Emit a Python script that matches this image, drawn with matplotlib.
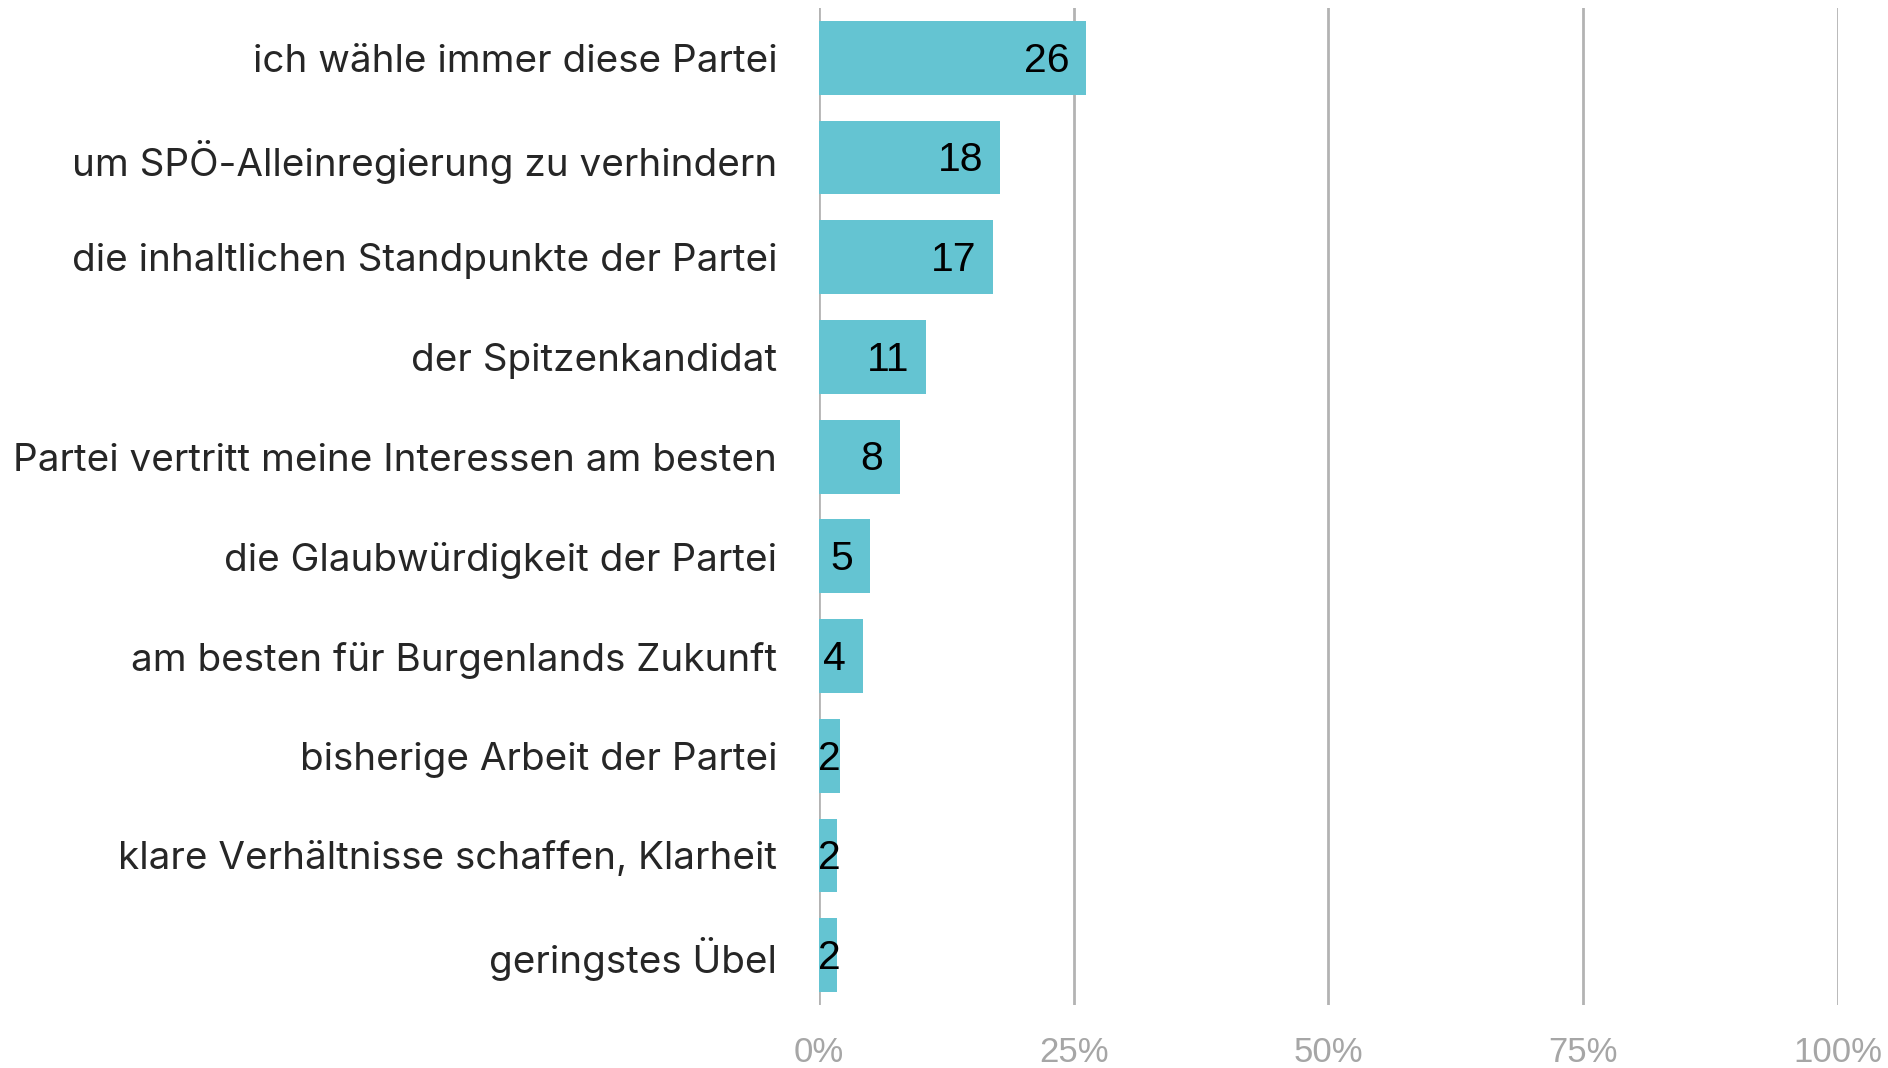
import matplotlib
matplotlib.use("Agg")
import matplotlib.pyplot as plt
from matplotlib.ticker import FuncFormatter

categories = [
    "ich wähle immer diese Partei",
    "um SPÖ-Alleinregierung zu verhindern",
    "die inhaltlichen Standpunkte der Partei",
    "der Spitzenkandidat",
    "Partei vertritt meine Interessen am besten",
    "die Glaubwürdigkeit der Partei",
    "am besten für Burgenlands Zukunft",
    "bisherige Arbeit der Partei",
    "klare Verhältnisse schaffen, Klarheit",
    "geringstes Übel",
]
values = [26.2, 17.8, 17.1, 10.5, 7.9, 5.0, 4.3, 2.1, 1.8, 1.8]
labels = ["26", "18", "17", "11", "8", "5", "4", "2", "2", "2"]
xticks = [0, 25, 50, 75, 100]

fig = plt.figure(figsize=(18.88, 10.68), dpi=100)
ax = fig.add_axes([0.4338, 0.059, 0.5397, 0.9335])

ypos = list(range(len(categories)))
ax.barh(ypos, values, height=0.74, color="#64C4D2", zorder=3)

for y, v, lab in zip(ypos, values, labels):
    if v < 3:
        ax.annotate(lab, (0, y), xytext=(-0.5, -2), textcoords="offset points",
                    ha="left", va="center", fontsize=29.5, color="black",
                    family="Liberation Sans", zorder=4)
    else:
        ax.annotate(lab, (v, y), xytext=(-12, -2), textcoords="offset points",
                    ha="right", va="center", fontsize=29.5, color="black",
                    family="Liberation Sans", zorder=4)

ax.set_xlim(0, 100)
ax.set_ylim(len(categories) - 0.5, -0.5)
ax.set_yticks(ypos)
ax.set_yticklabels(categories, fontsize=27.8, color="#262626", family="Inter")
ax.set_xticks(xticks)
ax.xaxis.set_major_formatter(FuncFormatter(lambda x, p: f"{x:.0f}%"))
for t in ax.get_xticklabels():
    t.set_fontsize(25)
    t.set_color("#A6A6A6")
    t.set_family("Liberation Sans")
ax.tick_params(axis="y", length=0, pad=30)
ax.tick_params(axis="x", length=0, pad=22)

for s in ax.spines.values():
    s.set_visible(False)
ax.grid(axis="x", color="#B3B3B3", linewidth=2, zorder=0)
ax.set_axisbelow(True)

fig.savefig("out.png", dpi=100)
